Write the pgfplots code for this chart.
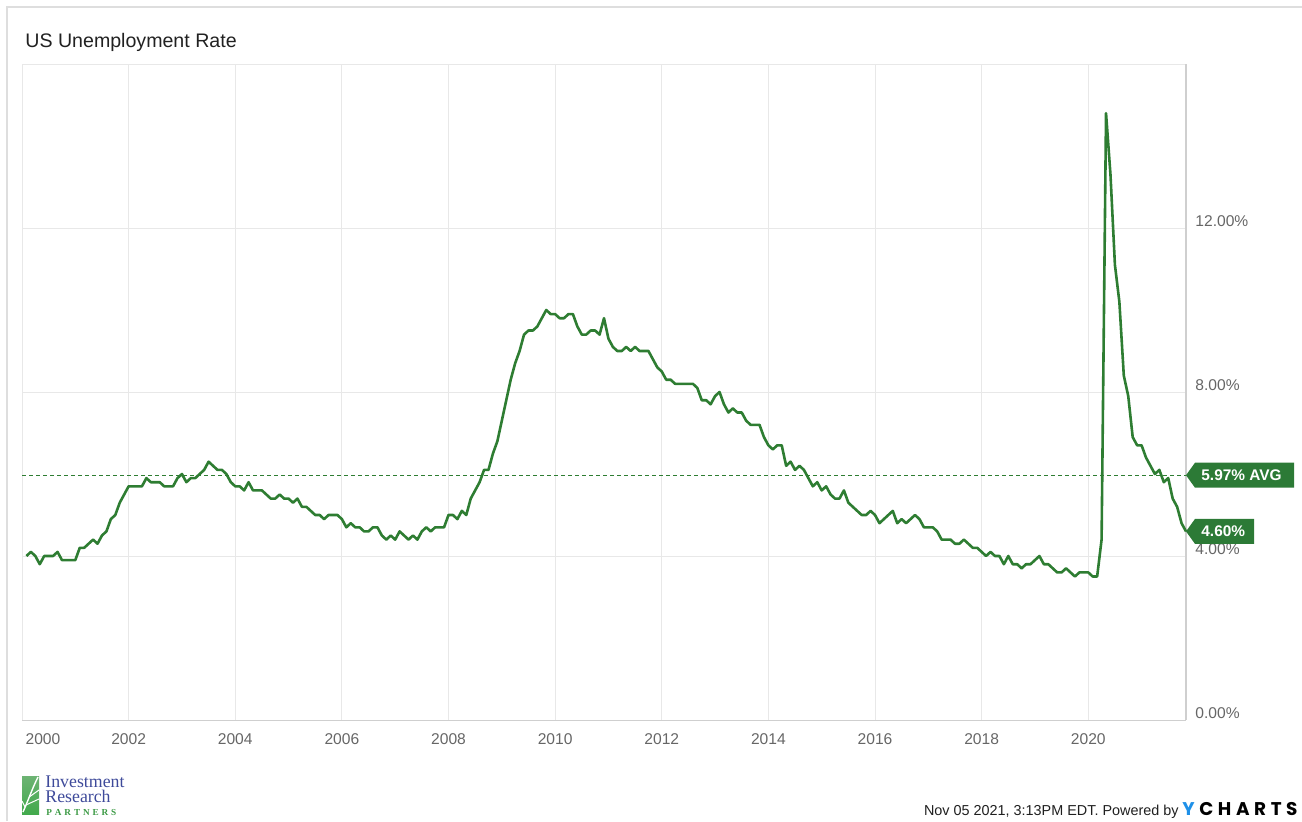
\documentclass[border=0pt]{standalone}
\usepackage{pgfplots}
\pgfplotsset{compat=1.18}
\usepackage{pgfplotstable}
\usepackage{fontspec}
\setmainfont{Liberation Sans}
\newfontfamily\seriffont{Liberation Serif}
\newfontfamily\poppins{Poppins}
\definecolor{lgreen}{HTML}{2E7D32}
\definecolor{boxgreen}{HTML}{2C7A36}
\definecolor{gridc}{HTML}{E8E8E8}
\definecolor{tickc}{HTML}{666666}
\definecolor{framec}{HTML}{DEDEDE}
\definecolor{rightc}{HTML}{CFCFCF}
\definecolor{logoblue}{HTML}{3E4A9A}
\definecolor{logogreen}{HTML}{3C9A45}
\definecolor{ycblue}{HTML}{1E90E8}

\pgfplotstableread[row sep=\\]{
v\\
4.0\\4.1\\4.0\\3.8\\4.0\\4.0\\4.0\\4.1\\3.9\\3.9\\3.9\\3.9\\
4.2\\4.2\\4.3\\4.4\\4.3\\4.5\\4.6\\4.9\\5.0\\5.3\\5.5\\5.7\\
5.7\\5.7\\5.7\\5.9\\5.8\\5.8\\5.8\\5.7\\5.7\\5.7\\5.9\\6.0\\
5.8\\5.9\\5.9\\6.0\\6.1\\6.3\\6.2\\6.1\\6.1\\6.0\\5.8\\5.7\\
5.7\\5.6\\5.8\\5.6\\5.6\\5.6\\5.5\\5.4\\5.4\\5.5\\5.4\\5.4\\
5.3\\5.4\\5.2\\5.2\\5.1\\5.0\\5.0\\4.9\\5.0\\5.0\\5.0\\4.9\\
4.7\\4.8\\4.7\\4.7\\4.6\\4.6\\4.7\\4.7\\4.5\\4.4\\4.5\\4.4\\
4.6\\4.5\\4.4\\4.5\\4.4\\4.6\\4.7\\4.6\\4.7\\4.7\\4.7\\5.0\\
5.0\\4.9\\5.1\\5.0\\5.4\\5.6\\5.8\\6.1\\6.1\\6.5\\6.8\\7.3\\
7.8\\8.3\\8.7\\9.0\\9.4\\9.5\\9.5\\9.6\\9.8\\10.0\\9.9\\9.9\\
9.8\\9.8\\9.9\\9.9\\9.6\\9.4\\9.4\\9.5\\9.5\\9.4\\9.8\\9.3\\
9.1\\9.0\\9.0\\9.1\\9.0\\9.1\\9.0\\9.0\\9.0\\8.8\\8.6\\8.5\\
8.3\\8.3\\8.2\\8.2\\8.2\\8.2\\8.2\\8.1\\7.8\\7.8\\7.7\\7.9\\
8.0\\7.7\\7.5\\7.6\\7.5\\7.5\\7.3\\7.2\\7.2\\7.2\\6.9\\6.7\\
6.6\\6.7\\6.7\\6.2\\6.3\\6.1\\6.2\\6.1\\5.9\\5.7\\5.8\\5.6\\
5.7\\5.5\\5.4\\5.4\\5.6\\5.3\\5.2\\5.1\\5.0\\5.0\\5.1\\5.0\\
4.8\\4.9\\5.0\\5.1\\4.8\\4.9\\4.8\\4.9\\5.0\\4.9\\4.7\\4.7\\
4.7\\4.6\\4.4\\4.4\\4.4\\4.3\\4.3\\4.4\\4.3\\4.2\\4.2\\4.1\\
4.0\\4.1\\4.0\\4.0\\3.8\\4.0\\3.8\\3.8\\3.7\\3.8\\3.8\\3.9\\
4.0\\3.8\\3.8\\3.7\\3.6\\3.6\\3.7\\3.6\\3.5\\3.6\\3.6\\3.6\\
3.5\\3.5\\4.4\\14.8\\13.3\\11.1\\10.2\\8.4\\7.9\\6.9\\6.7\\6.7\\
6.4\\6.2\\6.0\\6.1\\5.8\\5.9\\5.4\\5.2\\4.8\\4.6\\
}\urate

\begin{document}
\begin{tikzpicture}
% outer frame
\draw[framec, line width=0.6pt] (3.5pt,0) -- (3.5pt,407pt) -- (651pt,407pt);
% title
\node[anchor=base west, inner sep=0pt, text=black!87, font=\fontsize{9.8}{11}\selectfont] at (12.5pt,386.5pt) {US Unemployment Rate};

\begin{axis}[
  at={(11pt,50.5pt)}, anchor=south west,
  scale only axis, width=582pt, height=328pt,
  clip=false,
  xmin=0, xmax=262, ymin=0, ymax=16,
  axis line style={draw=none},
  major tick length=0pt,
  grid=major,
  major grid style={draw=gridc, line width=0.5pt},
  xtick={24,48,...,240},
  xticklabels={2002,2004,2006,2008,2010,2012,2014,2016,2018,2020},
  extra x ticks={0},
  extra x tick labels={2000},
  extra x tick style={grid=none, xticklabel style={xshift=10.5pt}},
  xticklabel style={text=tickc, font=\fontsize{7.8}{9}\selectfont, inner sep=0pt, anchor=north, yshift=-6.5pt},
  ytick={0,4,8,12},
  yticklabels={0.00\%,4.00\%,8.00\%,12.00\%},
  yticklabel pos=right,
  yticklabel style={text=tickc, font=\fontsize{7.8}{9}\selectfont, inner sep=0pt, anchor=west, xshift=4.5pt, yshift=3.5pt},
]
% borders
\draw[gridc, line width=0.5pt] (rel axis cs:0,0) -- (rel axis cs:0,1) -- (rel axis cs:1,1);
\draw[rightc, line width=0.6pt] (rel axis cs:1,1) -- (rel axis cs:1,0);
\draw[rightc, line width=0.5pt] (rel axis cs:0,0) -- (rel axis cs:1,0);
% average line
\addplot[lgreen, line width=0.6pt, dash pattern=on 2pt off 1.5pt] coordinates {(0,5.97) (262,5.97)};
% series
\addplot[lgreen, line width=1.3pt, line join=round] table[x expr=\coordindex+1, y=v] {\urate};
\coordinate (avgpt) at (axis cs:262,5.97);
\coordinate (lastpt) at (axis cs:262,4.6);
\end{axis}

% value labels
\fill[boxgreen] (avgpt) -- ++(4.5pt,6.25pt) -- ++(49.5pt,0) -- ++(0,-12.5pt) -- ++(-49.5pt,0) -- cycle;
\node[anchor=west, inner sep=0pt, text=white, font=\bfseries\fontsize{7.7}{9}\selectfont] at ([xshift=7.5pt]avgpt) {5.97\% AVG};
\fill[boxgreen] (lastpt) -- ++(4.5pt,6.25pt) -- ++(29.5pt,0) -- ++(0,-12.5pt) -- ++(-29.5pt,0) -- cycle;
\node[anchor=west, inner sep=0pt, text=white, font=\bfseries\fontsize{7.7}{9}\selectfont] at ([xshift=7.5pt]lastpt) {4.60\%};

% logo
\shade[top color=logogreen!75, bottom color=logogreen!110!black] (11pt,3.5pt) rectangle (19.5pt,22.5pt);
\draw[white, line width=0.7pt] (11.5pt,4.5pt) .. controls (14pt,10pt) and (16pt,16pt) .. (19pt,22pt);
\draw[white, line width=0.5pt] (13pt,8pt) -- (19.5pt,11pt);
\draw[white, line width=0.5pt] (14.6pt,12pt) -- (19.5pt,15.5pt);
\draw[white, line width=0.5pt] (12.5pt,7pt) -- (11pt,10pt);
\node[anchor=north west, inner sep=0pt, align=left, text=logoblue, font=\seriffont\fontsize{8.9}{7.7}\selectfont] at (22.5pt,22.8pt) {Investment\\Research};
\node[anchor=base west, inner sep=0pt, text=logogreen, font=\seriffont\bfseries\fontsize{4.6}{5}\selectfont] at (23pt,2.9pt) {P\hspace{1.45pt}A\hspace{1.45pt}R\hspace{1.45pt}T\hspace{1.45pt}N\hspace{1.45pt}E\hspace{1.45pt}R\hspace{1.45pt}S};

% footer
\node[anchor=base east, inner sep=0pt, text=black!88, font=\fontsize{7.2}{8}\selectfont] at (589.5pt,3pt) {Nov 05 2021, 3:13PM EDT. Powered by};
\node[anchor=base west, inner sep=0pt, font=\poppins\bfseries\fontsize{9.2}{10}\selectfont] at (591pt,3pt) {\textcolor{ycblue}{Y}\hspace{2.3pt}C\hspace{2.3pt}H\hspace{2.3pt}A\hspace{2.3pt}R\hspace{2.3pt}T\hspace{2.3pt}S};

\pgfresetboundingbox
\path[use as bounding box] (0,0) rectangle (651pt,410.5pt);
\end{tikzpicture}
\end{document}
